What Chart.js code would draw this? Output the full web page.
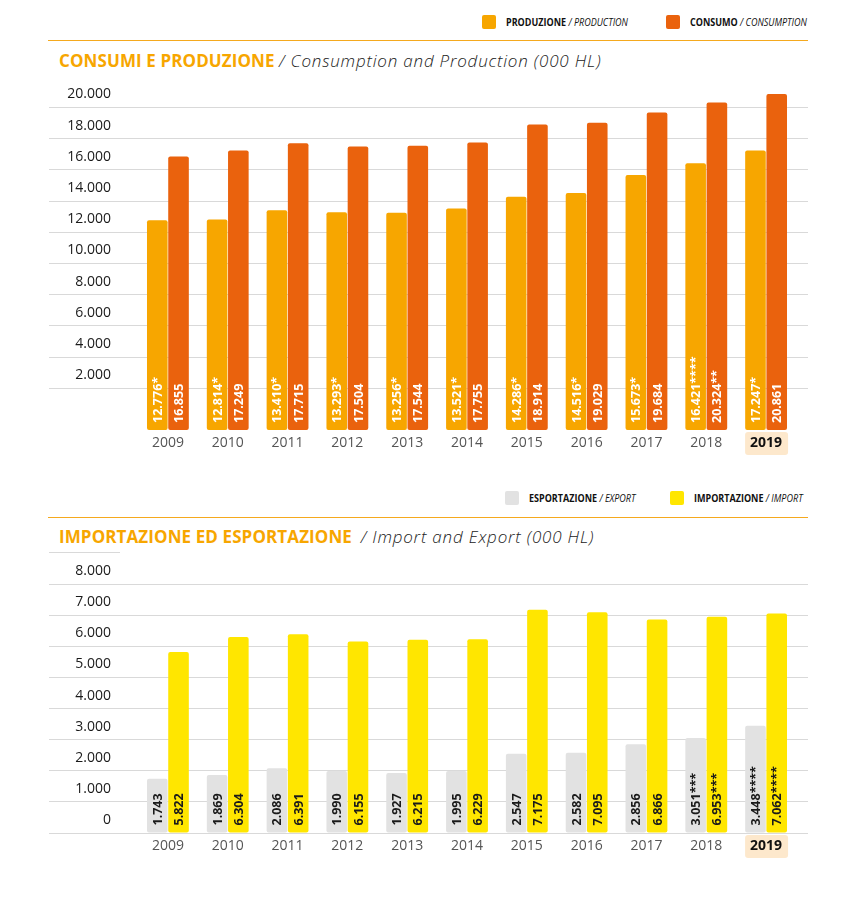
<!DOCTYPE html>
<html>
<head>
<meta charset="utf-8">
<script src="https://cdn.jsdelivr.net/npm/chart.js@4.4.1/dist/chart.umd.min.js"></script>
<style>
  body { margin: 0; background: #fff; width: 859px; height: 898px; position: relative; overflow: hidden; font-family: "Open Sans", sans-serif; }
  .abs { position: absolute; }
  .legend { display: flex; align-items: center; font-family: "Open Sans", sans-serif; font-size: 11px; color: #111; white-space: nowrap; }
  .legend .sw { width: 14px; height: 14px; border-radius: 2px; margin-right: 10px; }
  .legend .txt { display: inline-block; transform: scaleX(0.82); transform-origin: left center; }
  .legend b { font-weight: 700; }
  .legend i { font-weight: 400; }
  .rule { left: 48px; width: 760px; height: 0; border-top: 1.5px solid #f5a91e; }
  .title { left: 59px; font-size: 17px; line-height: 20px; white-space: nowrap; color: #222; }
  .title b { color: #f7a600; font-weight: 700; letter-spacing: 0.1px; }
  .title i { font-weight: 300; font-style: italic; letter-spacing: 0.8px; }
  canvas { position: absolute; left: 0; }
</style>
</head>
<body>

<div class="abs legend" style="left:482px; top:14px;"><div class="sw" style="background:#f7a600"></div><span class="txt"><b>PRODUZIONE</b> <i>/ PRODUCTION</i></span></div>
<div class="abs legend" style="left:666px; top:14px;"><div class="sw" style="background:#ea620d"></div><span class="txt"><b>CONSUMO</b> <i>/ CONSUMPTION</i></span></div>
<div class="abs rule" style="top:40px;"></div>
<div class="abs title" style="top:51px;"><b>CONSUMI E PRODUZIONE</b> <i>/ Consumption and Production (000 HL)</i></div>
<canvas id="topChart" width="859" height="390" style="top:75px;"></canvas>

<div class="abs legend" style="left:505px; top:490px;"><div class="sw" style="background:#e2e2e2"></div><span class="txt"><b>ESPORTAZIONE</b> <i>/ EXPORT</i></span></div>
<div class="abs legend" style="left:670px; top:490px;"><div class="sw" style="background:#ffe600"></div><span class="txt"><b>IMPORTAZIONE</b> <i>/ IMPORT</i></span></div>
<div class="abs rule" style="top:517px;"></div>
<div class="abs title" style="top:527px;"><b>IMPORTAZIONE ED ESPORTAZIONE</b>&nbsp; <i>/ Import and Export (000 HL)</i></div>
<div class="abs" style="left:49px; top:552px; width:71px; border-top:1px solid #d9d9d9;"></div>
<canvas id="bottomChart" width="859" height="315" style="top:555px;"></canvas>

<script>
// years on the x axis
const years = ['2009', '2010', '2011', '2012', '2013', '2014', '2015', '2016', '2017', '2018', '2019'];
const highlightYear = '2019';

// consumption and production (000 HL)
const production = [12776, 12814, 13410, 13293, 13256, 13521, 14286, 14516, 15673, 16421, 17247];
const productionNotes = ['*', '*', '*', '*', '*', '*', '*', '*', '*', '****', '*'];
const consumption = [16855, 17249, 17715, 17504, 17544, 17755, 18914, 19029, 19684, 20324, 20861];
const consumptionNotes = ['', '', '', '', '', '', '', '', '', '**', ''];

// import and export (000 HL)
const exportHL = [1743, 1869, 2086, 1990, 1927, 1995, 2547, 2582, 2856, 3051, 3448];
const exportNotes = ['', '', '', '', '', '', '', '', '', '***', '****'];
const importHL = [5822, 6304, 6391, 6155, 6215, 6229, 7175, 7095, 6866, 6953, 7062];
const importNotes = ['', '', '', '', '', '', '', '', '', '***', '****'];

// y axis tick values
const topTicks = [2000, 4000, 6000, 8000, 10000, 12000, 14000, 16000, 18000, 20000];
const bottomTicks = [0, 1000, 2000, 3000, 4000, 5000, 6000, 7000, 8000];

// 12345 -> "12.345"
const fmt = v => String(v).replace(/\B(?=(\d{3})+(?!\d))/g, '.');

// value labels written upright inside each bar
const barLabels = {
    id: 'barLabels',
    afterDatasetsDraw(chart, args, opts) {
        const ctx = chart.ctx;
        chart.data.datasets.forEach((ds, di) => {
            chart.getDatasetMeta(di).data.forEach((bar, i) => {
                ctx.save();
                ctx.translate(bar.x, bar.base - 7);
                ctx.rotate(-Math.PI / 2);
                ctx.font = 'bold 12.5px "Open Sans"';
                ctx.fillStyle = opts.color;
                ctx.textAlign = 'left';
                ctx.textBaseline = 'middle';
                ctx.fillText(fmt(ds.data[i]) + (ds.notes[i] || ''), 0, 1);
                ctx.restore();
            });
        });
    }
};

// peach box behind the latest year
const yearBox = {
    id: 'yearBox',
    beforeDraw(chart, args, opts) {
        const x = chart.scales.x;
        const i = chart.data.labels.indexOf(opts.year);
        if (i < 0) return;
        const px = x.getPixelForTick(i);
        const ctx = chart.ctx;
        ctx.save();
        ctx.fillStyle = '#fde8cc';
        ctx.beginPath();
        ctx.roundRect(px - 21, x.top + 2, 43, 23, 3);
        ctx.fill();
        ctx.restore();
    }
};

function makeChart(id, cfg) {
    const gridColor = '#d9d9d9';
    const yLeft = {
        min: cfg.min,
        max: cfg.max,
        afterBuildTicks: axis => { axis.ticks = cfg.ticks.map(v => ({ value: v })); },
        afterFit: axis => { axis.width = 138; },
        border: { display: false },
        grid: { color: gridColor, tickLength: 89, drawTicks: true },
        ticks: {
            padding: -62,
            labelOffset: -13,
            color: '#1a1a1a',
            font: { family: 'Open Sans', size: 14 },
            callback: v => fmt(v)
        }
    };
    const yRight = {
        position: 'right',
        min: cfg.min,
        max: cfg.max,
        afterBuildTicks: axis => { axis.ticks = cfg.ticks.map(v => ({ value: v })); },
        afterFit: axis => { axis.width = 12; },
        border: { display: false },
        grid: { color: gridColor, tickLength: 12, drawTicks: true, drawOnChartArea: false },
        ticks: { display: false }
    };

    return new Chart(document.getElementById(id), {
        type: 'bar',
        data: {
            labels: years,
            datasets: cfg.series.map(s => ({
                label: s.label,
                data: s.data,
                notes: s.notes,
                backgroundColor: s.color,
                borderRadius: 2,
                borderSkipped: false,
                base: cfg.base,
                categoryPercentage: 0.71,
                barPercentage: 0.97
            }))
        },
        options: {
            responsive: false,
            animation: false,
            layout: { padding: { top: cfg.padTop, right: 51, left: 0, bottom: 0 } },
            scales: {
                x: {
                    afterFit: axis => { axis.height = cfg.xHeight; },
                    border: { display: false },
                    grid: { display: false, drawTicks: false },
                    ticks: {
                        padding: 5,
                        color: c => c.tick && c.tick.label === highlightYear ? '#111' : '#555',
                        font: c => (c.tick && c.tick.label === highlightYear)
                            ? { family: 'Open Sans', size: 14, weight: 'bold' }
                            : { family: 'Open Sans', size: 14, weight: 'normal' }
                    }
                },
                y: yLeft,
                yr: yRight
            },
            plugins: {
                legend: { display: false },
                tooltip: { enabled: false },
                barLabels: { color: cfg.labelColor },
                yearBox: { year: highlightYear }
            }
        },
        plugins: [yearBox, barLabels]
    });
}

makeChart('topChart', {
    min: -673,
    max: 21442,
    base: -673,
    ticks: topTicks,
    padTop: 10,
    xHeight: 35,
    labelColor: '#ffffff',
    series: [
        { label: 'Produzione', data: production, notes: productionNotes, color: '#f7a600' },
        { label: 'Consumo', data: consumption, notes: consumptionNotes, color: '#ea620d' }
    ]
});

makeChart('bottomChart', {
    min: 0,
    max: 8714,
    base: 0,
    ticks: bottomTicks,
    padTop: 7,
    xHeight: 37,
    labelColor: '#1a1a1a',
    series: [
        { label: 'Esportazione', data: exportHL, notes: exportNotes, color: '#e2e2e2' },
        { label: 'Importazione', data: importHL, notes: importNotes, color: '#ffe600' }
    ]
});
</script>
</body>
</html>
